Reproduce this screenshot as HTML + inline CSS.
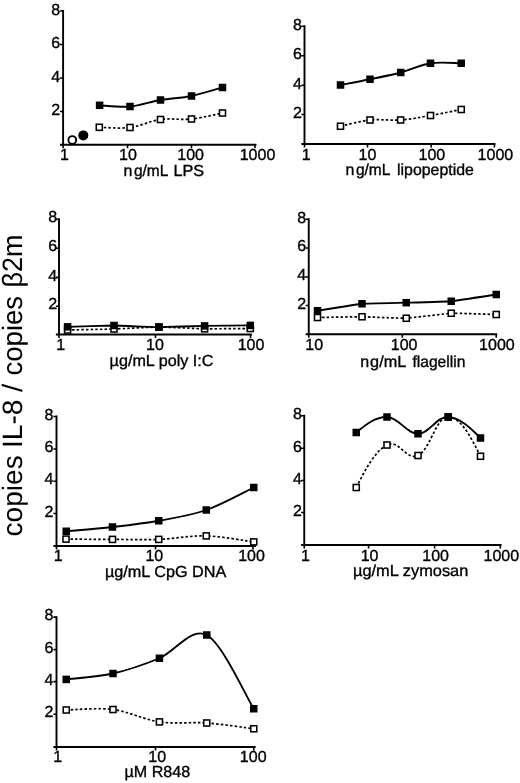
<!DOCTYPE html>
<html lang="en">
<head>
<meta charset="utf-8">
<title>IL-8 copies per β2m copies — TLR ligand dose response</title>
<style>
html,body{margin:0;padding:0;background:#fff;}
body{width:520px;height:783px;overflow:hidden;}
svg{display:block;will-change:transform;}
svg text{font-family:"Liberation Sans", Arial, Helvetica, sans-serif;fill:#000;text-rendering:geometricPrecision;stroke:#000;stroke-width:0.35px;}
</style>
</head>
<body>
<svg width="520" height="783" viewBox="0 0 520 783">
<rect width="520" height="783" fill="#fff"/>
<g id="ylabel"><text transform="translate(21.90 536.46) rotate(-90)" font-size="28" style="stroke:none" textLength="81.15" lengthAdjust="spacingAndGlyphs">copies</text><text transform="translate(21.90 448.03) rotate(-90)" font-size="28" style="stroke:none" textLength="48.43" lengthAdjust="spacingAndGlyphs">IL-8</text><text transform="translate(21.90 391.94) rotate(-90)" font-size="28" style="stroke:none" textLength="8.30" lengthAdjust="spacingAndGlyphs">/</text><text transform="translate(21.90 375.49) rotate(-90)" font-size="28" style="stroke:none" textLength="79.64" lengthAdjust="spacingAndGlyphs">copies</text><text transform="translate(21.90 287.62) rotate(-90)" font-size="28" style="stroke:none" textLength="53.00" lengthAdjust="spacingAndGlyphs">β2m</text></g>
<path d="M63.10 10.05 V145.65 M60.00 144.70 H256.45" fill="none" stroke="#000" stroke-width="1.90"/>
<text x="60.10" y="115.10" text-anchor="end" font-size="16">2</text>
<text x="60.10" y="81.60" text-anchor="end" font-size="16">4</text>
<text x="60.10" y="48.10" text-anchor="end" font-size="16">6</text>
<text x="60.10" y="14.60" text-anchor="end" font-size="16">8</text>
<text x="64.40" y="160.10" text-anchor="middle" font-size="16">1</text>
<text x="128.00" y="160.10" text-anchor="middle" font-size="16">10</text>
<text x="190.60" y="160.10" text-anchor="middle" font-size="16">100</text>
<text x="257.50" y="160.10" text-anchor="middle" font-size="16">1000</text>
<path d="M60.00 111.50 H63.10 M60.00 78.00 H63.10 M60.00 44.50 H63.10 M60.00 11.00 H63.10 M63.10 144.70 V148.30 M127.50 144.70 V148.30 M191.50 144.70 V148.30 M255.00 144.70 V148.30" fill="none" stroke="#000" stroke-width="1.6"/>
<text y="176.00" font-size="16"><tspan x="123.50">n</tspan><tspan x="133.92" textLength="33.87" lengthAdjust="spacingAndGlyphs">g/mL</tspan> <tspan x="173.57" textLength="30.58" lengthAdjust="spacingAndGlyphs">LPS</tspan></text>
<path d="M99.30 127.30 C104.42 127.33 119.80 128.80 130.00 127.50 C140.20 126.20 150.25 120.92 160.50 119.50 C170.75 118.08 181.17 120.08 191.50 119.00 C201.83 117.92 217.33 114.00 222.50 113.00" fill="none" stroke="#000" stroke-width="1.7" stroke-dasharray="2.5 2.1"/>
<path d="M99.60 105.30 C104.67 105.50 119.85 107.38 130.00 106.50 C140.15 105.62 150.25 101.75 160.50 100.00 C170.75 98.25 181.17 98.08 191.50 96.00 C201.83 93.92 217.33 88.92 222.50 87.50" fill="none" stroke="#000" stroke-width="1.85"/>
<rect x="96.27" y="124.27" width="6.05" height="6.05" fill="#fff" stroke="#000" stroke-width="1.55"/>
<rect x="126.97" y="124.47" width="6.05" height="6.05" fill="#fff" stroke="#000" stroke-width="1.55"/>
<rect x="157.47" y="116.47" width="6.05" height="6.05" fill="#fff" stroke="#000" stroke-width="1.55"/>
<rect x="188.47" y="115.97" width="6.05" height="6.05" fill="#fff" stroke="#000" stroke-width="1.55"/>
<rect x="219.47" y="109.97" width="6.05" height="6.05" fill="#fff" stroke="#000" stroke-width="1.55"/>
<rect x="95.85" y="101.55" width="7.50" height="7.50" fill="#000"/>
<rect x="126.25" y="102.75" width="7.50" height="7.50" fill="#000"/>
<rect x="156.75" y="96.25" width="7.50" height="7.50" fill="#000"/>
<rect x="187.75" y="92.25" width="7.50" height="7.50" fill="#000"/>
<rect x="218.75" y="83.75" width="7.50" height="7.50" fill="#000"/>
<circle cx="72.3" cy="140" r="3.9" fill="#fff" stroke="#000" stroke-width="1.9"/>
<circle cx="83.3" cy="135.4" r="5" fill="#000"/>
<path d="M304.50 25.25 V144.95 M301.40 144.00 H495.45" fill="none" stroke="#000" stroke-width="1.90"/>
<text x="302.00" y="118.10" text-anchor="end" font-size="16">2</text>
<text x="302.00" y="88.90" text-anchor="end" font-size="16">4</text>
<text x="302.00" y="59.30" text-anchor="end" font-size="16">6</text>
<text x="302.00" y="29.80" text-anchor="end" font-size="16">8</text>
<text x="306.20" y="159.80" text-anchor="middle" font-size="16">1</text>
<text x="367.50" y="159.80" text-anchor="middle" font-size="16">10</text>
<text x="431.90" y="159.80" text-anchor="middle" font-size="16">100</text>
<text x="495.40" y="159.80" text-anchor="middle" font-size="16">1000</text>
<path d="M301.40 114.50 H304.50 M301.40 85.30 H304.50 M301.40 55.70 H304.50 M301.40 26.20 H304.50 M304.50 144.00 V147.60 M367.50 144.00 V147.60 M431.20 144.00 V147.60 M494.40 144.00 V147.60" fill="none" stroke="#000" stroke-width="1.6"/>
<text y="175.20" font-size="16"><tspan x="345.60">n</tspan><tspan x="355.91" textLength="33.84" lengthAdjust="spacingAndGlyphs">g/mL</tspan> <tspan x="397.02" textLength="76.85" lengthAdjust="spacingAndGlyphs">lipopeptide</tspan></text>
<path d="M340.50 126.25 C345.42 125.21 359.98 121.04 370.00 120.00 C380.02 118.96 390.52 120.75 400.60 120.00 C410.68 119.25 420.39 117.25 430.50 115.50 C440.61 113.75 456.12 110.50 461.25 109.50" fill="none" stroke="#000" stroke-width="1.7" stroke-dasharray="2.5 2.1"/>
<path d="M340.50 85.00 C345.42 84.04 359.96 81.33 370.00 79.25 C380.04 77.17 390.67 75.17 400.75 72.50 C410.83 69.83 420.42 64.79 430.50 63.25 C440.58 61.71 456.12 63.25 461.25 63.25" fill="none" stroke="#000" stroke-width="1.85"/>
<rect x="337.48" y="123.22" width="6.05" height="6.05" fill="#fff" stroke="#000" stroke-width="1.55"/>
<rect x="366.98" y="116.97" width="6.05" height="6.05" fill="#fff" stroke="#000" stroke-width="1.55"/>
<rect x="397.58" y="116.97" width="6.05" height="6.05" fill="#fff" stroke="#000" stroke-width="1.55"/>
<rect x="427.48" y="112.47" width="6.05" height="6.05" fill="#fff" stroke="#000" stroke-width="1.55"/>
<rect x="458.23" y="106.47" width="6.05" height="6.05" fill="#fff" stroke="#000" stroke-width="1.55"/>
<rect x="336.75" y="81.25" width="7.50" height="7.50" fill="#000"/>
<rect x="366.25" y="75.50" width="7.50" height="7.50" fill="#000"/>
<rect x="397.00" y="68.75" width="7.50" height="7.50" fill="#000"/>
<rect x="426.75" y="59.50" width="7.50" height="7.50" fill="#000"/>
<rect x="457.50" y="59.50" width="7.50" height="7.50" fill="#000"/>
<path d="M59.00 218.35 V335.45 M55.90 334.50 H251.95" fill="none" stroke="#000" stroke-width="1.90"/>
<text x="57.10" y="309.30" text-anchor="end" font-size="16">2</text>
<text x="57.10" y="280.50" text-anchor="end" font-size="16">4</text>
<text x="57.10" y="251.40" text-anchor="end" font-size="16">6</text>
<text x="57.10" y="222.40" text-anchor="end" font-size="16">8</text>
<text x="60.80" y="349.90" text-anchor="middle" font-size="16">1</text>
<text x="155.00" y="349.90" text-anchor="middle" font-size="16">10</text>
<text x="251.00" y="349.90" text-anchor="middle" font-size="16">100</text>
<path d="M55.90 306.20 H59.00 M55.90 277.40 H59.00 M55.90 248.30 H59.00 M55.90 219.30 H59.00 M59.00 334.50 V338.10 M155.50 334.50 V338.10 M250.50 334.50 V338.10" fill="none" stroke="#000" stroke-width="1.6"/>
<text x="109.60" y="366.30" font-size="16" textLength="103.9" lengthAdjust="spacingAndGlyphs">µg/mL poly I:C</text>
<path d="M67.60 330.00 C69.92 329.95 109.44 329.15 114.00 329.00 C118.56 328.85 154.37 327.01 158.90 327.00 C163.43 326.99 200.03 328.73 204.60 328.80 C209.17 328.88 248.02 328.51 250.30 328.50" fill="none" stroke="#000" stroke-width="1.7" stroke-dasharray="2.5 2.1"/>
<path d="M67.60 326.85 C69.92 326.78 109.44 325.49 114.00 325.50 C118.56 325.51 154.37 327.08 158.90 327.10 C163.43 327.12 200.03 325.98 204.60 325.90 C209.17 325.81 248.02 325.42 250.30 325.40" fill="none" stroke="#000" stroke-width="1.85"/>
<rect x="64.57" y="326.98" width="6.05" height="6.05" fill="#fff" stroke="#000" stroke-width="1.55"/>
<rect x="110.97" y="325.98" width="6.05" height="6.05" fill="#fff" stroke="#000" stroke-width="1.55"/>
<rect x="155.88" y="323.98" width="6.05" height="6.05" fill="#fff" stroke="#000" stroke-width="1.55"/>
<rect x="201.57" y="325.78" width="6.05" height="6.05" fill="#fff" stroke="#000" stroke-width="1.55"/>
<rect x="247.28" y="325.48" width="6.05" height="6.05" fill="#fff" stroke="#000" stroke-width="1.55"/>
<rect x="63.85" y="323.10" width="7.50" height="7.50" fill="#000"/>
<rect x="110.25" y="321.75" width="7.50" height="7.50" fill="#000"/>
<rect x="155.15" y="323.35" width="7.50" height="7.50" fill="#000"/>
<rect x="200.85" y="322.15" width="7.50" height="7.50" fill="#000"/>
<rect x="246.55" y="321.65" width="7.50" height="7.50" fill="#000"/>
<path d="M308.75 218.35 V335.15 M305.65 334.20 H497.25" fill="none" stroke="#000" stroke-width="1.90"/>
<text x="306.05" y="308.70" text-anchor="end" font-size="16">2</text>
<text x="306.05" y="280.20" text-anchor="end" font-size="16">4</text>
<text x="306.05" y="251.20" text-anchor="end" font-size="16">6</text>
<text x="306.05" y="222.50" text-anchor="end" font-size="16">8</text>
<text x="314.25" y="349.60" text-anchor="middle" font-size="16">10</text>
<text x="404.10" y="349.60" text-anchor="middle" font-size="16">100</text>
<text x="496.90" y="349.60" text-anchor="middle" font-size="16">1000</text>
<path d="M305.65 305.50 H308.75 M305.65 277.00 H308.75 M305.65 248.00 H308.75 M305.65 219.30 H308.75 M308.75 334.20 V337.80 M402.30 334.20 V337.80 M496.20 334.20 V337.80" fill="none" stroke="#000" stroke-width="1.6"/>
<text y="367.00" font-size="16"><tspan x="360.22">n</tspan><tspan x="370.10" textLength="35.54" lengthAdjust="spacingAndGlyphs">g/mL</tspan> <tspan x="412.42" textLength="53.04" lengthAdjust="spacingAndGlyphs">flagellin</tspan></text>
<path d="M317.50 317.50 C319.28 317.47 358.45 316.72 362.00 316.75 C365.55 316.78 402.68 318.39 406.25 318.25 C409.82 318.11 447.65 313.40 451.25 313.25 C454.85 313.10 494.45 314.45 496.25 314.50" fill="none" stroke="#000" stroke-width="1.7" stroke-dasharray="2.5 2.1"/>
<path d="M317.50 310.75 C319.28 310.47 358.45 304.07 362.00 303.75 C365.55 303.43 402.68 302.80 406.25 302.70 C409.82 302.60 447.65 301.58 451.25 301.25 C454.85 300.92 494.45 294.77 496.25 294.50" fill="none" stroke="#000" stroke-width="1.85"/>
<rect x="314.48" y="314.48" width="6.05" height="6.05" fill="#fff" stroke="#000" stroke-width="1.55"/>
<rect x="358.98" y="313.73" width="6.05" height="6.05" fill="#fff" stroke="#000" stroke-width="1.55"/>
<rect x="403.23" y="315.23" width="6.05" height="6.05" fill="#fff" stroke="#000" stroke-width="1.55"/>
<rect x="448.23" y="310.23" width="6.05" height="6.05" fill="#fff" stroke="#000" stroke-width="1.55"/>
<rect x="493.23" y="311.48" width="6.05" height="6.05" fill="#fff" stroke="#000" stroke-width="1.55"/>
<rect x="313.75" y="307.00" width="7.50" height="7.50" fill="#000"/>
<rect x="358.25" y="300.00" width="7.50" height="7.50" fill="#000"/>
<rect x="402.50" y="298.95" width="7.50" height="7.50" fill="#000"/>
<rect x="447.50" y="297.50" width="7.50" height="7.50" fill="#000"/>
<rect x="492.50" y="290.75" width="7.50" height="7.50" fill="#000"/>
<path d="M56.50 415.55 V546.95 M53.40 546.00 H255.95" fill="none" stroke="#000" stroke-width="1.90"/>
<text x="53.50" y="516.60" text-anchor="end" font-size="16">2</text>
<text x="53.50" y="484.30" text-anchor="end" font-size="16">4</text>
<text x="53.50" y="452.10" text-anchor="end" font-size="16">6</text>
<text x="53.50" y="419.60" text-anchor="end" font-size="16">8</text>
<text x="58.20" y="561.40" text-anchor="middle" font-size="16">1</text>
<text x="154.30" y="561.40" text-anchor="middle" font-size="16">10</text>
<text x="251.50" y="561.40" text-anchor="middle" font-size="16">100</text>
<path d="M53.40 513.50 H56.50 M53.40 481.20 H56.50 M53.40 449.00 H56.50 M53.40 416.50 H56.50 M56.50 546.00 V549.60 M155.50 546.00 V549.60 M253.00 546.00 V549.60" fill="none" stroke="#000" stroke-width="1.6"/>
<text x="105.00" y="576.70" font-size="16" textLength="121.3" lengthAdjust="spacingAndGlyphs">µg/mL CpG DNA</text>
<path d="M66.00 539.10 C73.75 539.15 97.04 539.35 112.50 539.40 C127.96 539.45 143.12 539.98 158.75 539.40 C174.38 538.82 190.42 535.48 206.25 535.90 C222.08 536.32 245.83 540.90 253.75 541.90" fill="none" stroke="#000" stroke-width="1.7" stroke-dasharray="2.5 2.1"/>
<path d="M66.25 531.25 C73.96 530.54 97.08 528.75 112.50 527.00 C127.92 525.25 143.12 523.58 158.75 520.75 C174.38 517.92 190.42 515.54 206.25 510.00 C222.08 504.46 245.83 491.25 253.75 487.50" fill="none" stroke="#000" stroke-width="1.85"/>
<rect x="62.98" y="536.08" width="6.05" height="6.05" fill="#fff" stroke="#000" stroke-width="1.55"/>
<rect x="109.47" y="536.38" width="6.05" height="6.05" fill="#fff" stroke="#000" stroke-width="1.55"/>
<rect x="155.72" y="536.38" width="6.05" height="6.05" fill="#fff" stroke="#000" stroke-width="1.55"/>
<rect x="203.22" y="532.88" width="6.05" height="6.05" fill="#fff" stroke="#000" stroke-width="1.55"/>
<rect x="250.72" y="538.88" width="6.05" height="6.05" fill="#fff" stroke="#000" stroke-width="1.55"/>
<rect x="62.50" y="527.50" width="7.50" height="7.50" fill="#000"/>
<rect x="108.75" y="523.25" width="7.50" height="7.50" fill="#000"/>
<rect x="155.00" y="517.00" width="7.50" height="7.50" fill="#000"/>
<rect x="202.50" y="506.25" width="7.50" height="7.50" fill="#000"/>
<rect x="250.00" y="483.75" width="7.50" height="7.50" fill="#000"/>
<path d="M304.25 414.85 V545.95 M301.15 545.00 H501.55" fill="none" stroke="#000" stroke-width="1.90"/>
<text x="301.95" y="515.90" text-anchor="end" font-size="16">2</text>
<text x="301.95" y="483.90" text-anchor="end" font-size="16">4</text>
<text x="301.95" y="451.70" text-anchor="end" font-size="16">6</text>
<text x="301.95" y="419.20" text-anchor="end" font-size="16">8</text>
<text x="305.45" y="561.40" text-anchor="middle" font-size="16">1</text>
<text x="369.60" y="561.40" text-anchor="middle" font-size="16">10</text>
<text x="435.60" y="561.40" text-anchor="middle" font-size="16">100</text>
<text x="501.30" y="561.40" text-anchor="middle" font-size="16">1000</text>
<path d="M301.15 512.50 H304.25 M301.15 480.50 H304.25 M301.15 448.30 H304.25 M301.15 415.80 H304.25 M304.25 545.00 V548.60 M368.60 545.00 V548.60 M434.60 545.00 V548.60 M500.30 545.00 V548.60" fill="none" stroke="#000" stroke-width="1.6"/>
<text x="353.00" y="576.00" font-size="16" textLength="115.3" lengthAdjust="spacingAndGlyphs">µg/mL zymosan</text>
<path d="M356.25 487.50 C365.45 469.45 374.65 451.40 387.00 445.00 C399.35 438.60 405.75 461.10 418.00 455.50 C430.25 449.90 435.75 416.85 448.25 417.00 C460.75 417.15 470.62 436.70 480.50 456.25" fill="none" stroke="#000" stroke-width="1.7" stroke-dasharray="2.5 2.1"/>
<path d="M356.25 432.50 C365.76 424.63 375.27 416.76 387.00 417.00 C398.73 417.24 406.36 433.75 418.00 433.75 C429.64 433.75 436.38 416.19 448.25 417.00 C460.12 417.81 470.31 427.90 480.50 438.00" fill="none" stroke="#000" stroke-width="1.85"/>
<rect x="353.23" y="484.48" width="6.05" height="6.05" fill="#fff" stroke="#000" stroke-width="1.55"/>
<rect x="383.98" y="441.98" width="6.05" height="6.05" fill="#fff" stroke="#000" stroke-width="1.55"/>
<rect x="414.98" y="452.48" width="6.05" height="6.05" fill="#fff" stroke="#000" stroke-width="1.55"/>
<rect x="445.23" y="413.98" width="6.05" height="6.05" fill="#fff" stroke="#000" stroke-width="1.55"/>
<rect x="477.48" y="453.23" width="6.05" height="6.05" fill="#fff" stroke="#000" stroke-width="1.55"/>
<rect x="352.50" y="428.75" width="7.50" height="7.50" fill="#000"/>
<rect x="383.25" y="413.25" width="7.50" height="7.50" fill="#000"/>
<rect x="414.25" y="430.00" width="7.50" height="7.50" fill="#000"/>
<rect x="444.50" y="413.25" width="7.50" height="7.50" fill="#000"/>
<rect x="476.75" y="434.25" width="7.50" height="7.50" fill="#000"/>
<path d="M56.50 616.15 V747.95 M53.40 747.00 H255.65" fill="none" stroke="#000" stroke-width="1.90"/>
<text x="53.50" y="717.40" text-anchor="end" font-size="16">2</text>
<text x="53.50" y="684.80" text-anchor="end" font-size="16">4</text>
<text x="53.50" y="652.80" text-anchor="end" font-size="16">6</text>
<text x="53.50" y="620.30" text-anchor="end" font-size="16">8</text>
<text x="57.70" y="762.40" text-anchor="middle" font-size="16">1</text>
<text x="157.20" y="762.40" text-anchor="middle" font-size="16">10</text>
<text x="253.20" y="762.40" text-anchor="middle" font-size="16">100</text>
<path d="M53.40 714.20 H56.50 M53.40 681.60 H56.50 M53.40 649.60 H56.50 M53.40 617.10 H56.50 M56.50 747.00 V750.60 M155.50 747.00 V750.60 M253.80 747.00 V750.60" fill="none" stroke="#000" stroke-width="1.6"/>
<text x="124.50" y="776.70" font-size="16" textLength="65.7" lengthAdjust="spacingAndGlyphs">µM R848</text>
<path d="M66.25 710.00 C74.04 709.92 97.47 707.52 113.00 709.50 C128.53 711.48 143.78 719.65 159.40 721.90 C175.03 724.15 191.03 721.86 206.75 723.00 C222.47 724.14 245.92 727.79 253.75 728.75" fill="none" stroke="#000" stroke-width="1.7" stroke-dasharray="2.5 2.1"/>
<path d="M66.25 679.40 C74.04 678.42 97.47 677.02 113.00 673.50 C128.53 669.98 143.78 664.67 159.40 658.25 C175.03 651.83 191.03 626.58 206.75 635.00 C222.47 643.42 245.92 696.46 253.75 708.75" fill="none" stroke="#000" stroke-width="1.85"/>
<rect x="63.23" y="706.98" width="6.05" height="6.05" fill="#fff" stroke="#000" stroke-width="1.55"/>
<rect x="109.97" y="706.48" width="6.05" height="6.05" fill="#fff" stroke="#000" stroke-width="1.55"/>
<rect x="156.38" y="718.88" width="6.05" height="6.05" fill="#fff" stroke="#000" stroke-width="1.55"/>
<rect x="203.72" y="719.98" width="6.05" height="6.05" fill="#fff" stroke="#000" stroke-width="1.55"/>
<rect x="250.72" y="725.73" width="6.05" height="6.05" fill="#fff" stroke="#000" stroke-width="1.55"/>
<rect x="62.50" y="675.65" width="7.50" height="7.50" fill="#000"/>
<rect x="109.25" y="669.75" width="7.50" height="7.50" fill="#000"/>
<rect x="155.65" y="654.50" width="7.50" height="7.50" fill="#000"/>
<rect x="203.00" y="631.25" width="7.50" height="7.50" fill="#000"/>
<rect x="250.00" y="705.00" width="7.50" height="7.50" fill="#000"/>
</svg>
</body>
</html>
